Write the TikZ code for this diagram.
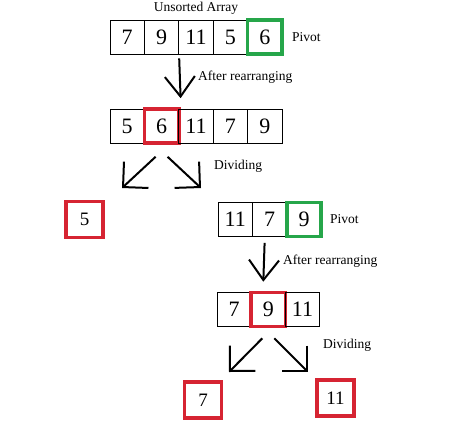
\documentclass[tikz,border=0pt]{standalone}
\usepackage{fontspec}
\setmainfont{Liberation Serif}
\usetikzlibrary{arrows.meta,positioning}
\definecolor{splitred}{RGB}{214,36,50}
\definecolor{pivotgreen}{RGB}{38,166,74}

\begin{document}
\begin{tikzpicture}[x=1pt,y=-1pt,
  cell/.style={rectangle,draw,line width=0.8pt,minimum width=34.4pt,minimum height=34pt,inner sep=0pt,font=\fontsize{22}{22}\selectfont},
  pivot/.style={cell,draw=pivotgreen,line width=3.6pt},
  split/.style={cell,draw=splitred,line width=3.6pt},
  lone/.style={split,minimum width=37pt,minimum height=36pt,font=\fontsize{19}{19}\selectfont},
  lbl/.style={anchor=west,inner sep=0pt,font=\fontsize{13.5}{13.5}\selectfont},
  down/.style={line width=2pt,-{Straight Barb[length=20pt,width=30pt]}},
  apart/.style={line width=2pt,-{Straight Barb[length=18pt,width=36pt]}}]
\useasboundingbox (0,0) rectangle (474,424);
% unsorted array
\foreach \v/\s [count=\i] in {7/cell,9/cell,11/cell,5/cell,6/pivot}
  \node[\s] (A\i) at ({110+34.4*(\i-0.5)},37) {\v};
\node[font=\fontsize{13.5}{13.5}\selectfont,inner sep=0pt] (title) at (196,8) {Unsorted Array};
\node[lbl,right=8pt of A5] (piv1) {Pivot};
% after first partition
\foreach \v/\s [count=\i] in {5/cell,6/split,11/cell,7/cell,9/cell}
  \node[\s] (B\i) at ({110+34.4*(\i-0.5)},126) {\v};
\coordinate (r1s) at ([yshift=-4pt]A2.south east);
\coordinate (r1e) at ([yshift=9pt]B2.north east);
\draw[down] (r1s) -- (r1e);
\node[lbl] (re1) at (198,77) {After rearranging};
% dividing
\coordinate (dl1s) at ([xshift=-6pt,yshift=-12pt]B2.south);
\coordinate (dl1e) at (122,188);
\coordinate (dr1s) at ([xshift=6pt,yshift=-12pt]B2.south);
\coordinate (dr1e) at (201,188);
\draw[apart] (dl1s) -- (dl1e);
\draw[apart] (dr1s) -- (dr1e);
\node[lbl] (dv1) at (214,166) {Dividing};
\node[lone] (L1) at (84.5,219.5) {5};
% right part
\foreach \v/\s [count=\i] in {11/cell,7/cell,9/pivot}
  \node[\s] (C\i) at ({218+34.4*(\i-0.5)},219.5) {\v};
\node[lbl,right=7pt of C3] (piv2) {Pivot};
\foreach \v/\s [count=\i] in {7/cell,9/split,11/cell}
  \node[\s] (D\i) at ({217+34.2*(\i-0.5)},309.5) {\v};
\coordinate (r2s) at ([xshift=-5pt,yshift=-6pt]C2.south);
\coordinate (r2e) at ([xshift=-5pt,yshift=9pt]D2.north);
\draw[down] (r2s) -- (r2e);
\node[lbl] (re2) at (283,261) {After rearranging};
\coordinate (dl2s) at ([xshift=-6pt,yshift=-10pt]D2.south);
\coordinate (dl2e) at (229,372);
\coordinate (dr2s) at ([xshift=6pt,yshift=-10pt]D2.south);
\coordinate (dr2e) at (308,372);
\draw[apart] (dl2s) -- (dl2e);
\draw[apart] (dr2s) -- (dr2e);
\node[lbl] (dv2) at (323,345) {Dividing};
\node[lone] (L2) at (203,400) {7};
\node[lone] (L3) at (335.5,398) {11};
\end{tikzpicture}
\end{document}
